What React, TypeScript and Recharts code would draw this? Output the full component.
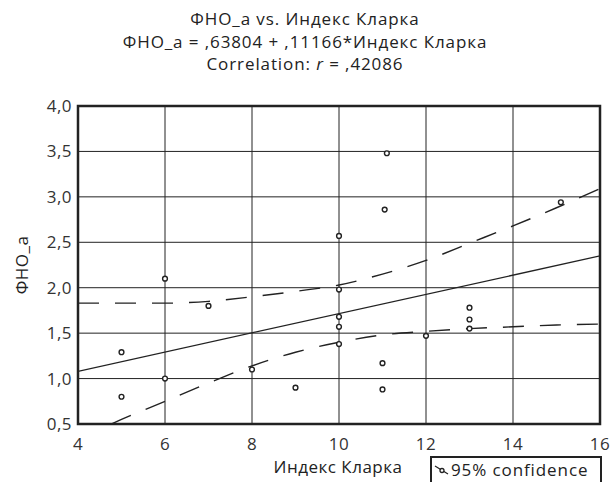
import {
  ComposedChart,
  Scatter,
  Line,
  XAxis,
  YAxis,
  CartesianGrid,
  ReferenceArea,
} from 'recharts';

const FONT = '"Open Sans", Lato, sans-serif';
const INK = '#222';
const SPACING = '0.5px';
const WIDE = '0.9px';

const X_TICKS = [4, 6, 8, 10, 12, 14, 16];
const Y_TICKS = [0.5, 1.0, 1.5, 2.0, 2.5, 3.0, 3.5, 4.0];

// observations (Индекс Кларка, ФНО_a)
const clarkIndex = [5, 5, 6, 6, 7, 8, 9, 10, 10, 10, 10, 10, 11.1, 11.05, 11, 11, 12, 13, 13, 13, 15.1];
const tnfA = [1.29, 0.8, 2.1, 1.0, 1.8, 1.1, 0.9, 2.57, 1.98, 1.68, 1.57, 1.38, 3.48, 2.86, 1.17, 0.88, 1.47, 1.78, 1.65, 1.55, 2.94];

// fitted line ends, as drawn
const fitX = [4, 16];
const fitY = [1.08, 2.35];

// 95% confidence band, read at integer x
const bandX = [4, 5, 6, 7, 8, 9, 10, 11, 12, 13, 14, 15, 16];
const bandUpper = [1.83, 1.83, 1.83, 1.85, 1.9, 1.96, 2.03, 2.15, 2.3, 2.49, 2.68, 2.88, 3.09];
const bandLower = [0.33, 0.55, 0.75, 0.95, 1.14, 1.29, 1.4, 1.48, 1.52, 1.55, 1.57, 1.59, 1.6];

const points = clarkIndex.map((x, i) => ({ x, y: tnfA[i] }));
const fitData = fitX.map((x, i) => ({ x, fit: fitY[i] }));
const upperData = bandX.map((x, i) => ({ x, upper: bandUpper[i] }));
const lowerData = bandX.map((x, i) => ({ x, lower: bandLower[i] }));

const fmt = (v: number) => v.toFixed(1).replace('.', ',');

function OpenDot(props: any) {
  const { cx, cy } = props;
  return <circle cx={cx} cy={cy} r={2.4} fill="#fff" stroke={INK} strokeWidth={1.4} />;
}

export default function App() {
  const tick = { fontSize: 17, fill: '#333', fontFamily: FONT, letterSpacing: SPACING };
  return (
    <div
      style={{
        position: 'absolute',
        left: 0,
        top: 0,
        width: 610,
        height: 482,
        overflow: 'hidden',
        background: '#fff',
        fontFamily: FONT,
        color: INK,
        letterSpacing: SPACING,
      }}
    >
      <div
        style={{
          position: 'absolute',
          left: 0,
          top: 8,
          width: 610,
          textAlign: 'center',
          fontSize: 17,
          lineHeight: '22.5px',
          letterSpacing: WIDE,
        }}
      >
        <div>ФНО_a vs. Индекс Кларка</div>
        <div>ФНО_a = ,63804 + ,11166*Индекс Кларка</div>
        <div>
          Correlation: <i>r</i> = ,42086
        </div>
      </div>

      <ComposedChart
        width={610}
        height={482}
        margin={{ top: 106, right: 10, bottom: 0, left: 0 }}
        style={{ position: 'absolute', left: 0, top: 0 }}
      >
        <CartesianGrid stroke={INK} strokeWidth={1} />
        <XAxis
          type="number"
          dataKey="x"
          domain={[4, 16]}
          ticks={X_TICKS}
          height={58}
          tickLine={false}
          axisLine={false}
          tickSize={6}
          tickMargin={8}
          tick={tick}
          allowDataOverflow
        />
        <YAxis
          type="number"
          domain={[0.5, 4]}
          ticks={Y_TICKS}
          width={78}
          tickLine={false}
          axisLine={false}
          tickSize={6}
          tickMargin={0}
          tick={tick}
          tickFormatter={fmt}
          allowDataOverflow
        />
        <Line
          data={upperData}
          dataKey="upper"
          type="monotone"
          stroke={INK}
          strokeWidth={1.4}
          strokeDasharray="21 16"
          dot={false}
          isAnimationActive={false}
        />
        <Line
          data={lowerData}
          dataKey="lower"
          type="monotone"
          stroke={INK}
          strokeWidth={1.4}
          strokeDasharray="21 16"
          dot={false}
          isAnimationActive={false}
        />
        <Line
          data={fitData}
          dataKey="fit"
          type="linear"
          stroke={INK}
          strokeWidth={1.3}
          dot={false}
          isAnimationActive={false}
        />
        <Scatter data={points} dataKey="y" shape={OpenDot} isAnimationActive={false} />
        <ReferenceArea
          x1={4}
          x2={16}
          y1={0.5}
          y2={4}
          fill="none"
          fillOpacity={0}
          stroke={INK}
          strokeWidth={2.5}
        />
      </ComposedChart>

      <div
        style={{
          position: 'absolute',
          left: 21,
          top: 265,
          transform: 'translate(-50%, -50%) rotate(-90deg)',
          fontSize: 17,
          whiteSpace: 'nowrap',
        }}
      >
        ФНО_a
      </div>
      <div
        style={{
          position: 'absolute',
          left: 338,
          top: 466,
          transform: 'translate(-50%, -50%)',
          fontSize: 17,
          whiteSpace: 'nowrap',
        }}
      >
        Индекс Кларка
      </div>
      <div
        style={{
          position: 'absolute',
          left: 430,
          top: 456,
          width: 168,
          height: 24,
          border: `2px solid ${INK}`,
          borderBottom: 'none',
          display: 'flex',
          alignItems: 'center',
          fontSize: 17,
          lineHeight: '22px',
          whiteSpace: 'nowrap',
          letterSpacing: WIDE,
        }}
      >
        <svg width={15} height={12} style={{ marginLeft: 2, marginRight: 2 }}>
          <line x1={1} y1={2} x2={14} y2={10} stroke={INK} strokeWidth={1.3} />
          <circle cx={8} cy={6.5} r={2} fill="#fff" stroke={INK} strokeWidth={1.3} />
        </svg>
        <span>95% confidence</span>
      </div>
    </div>
  );
}
